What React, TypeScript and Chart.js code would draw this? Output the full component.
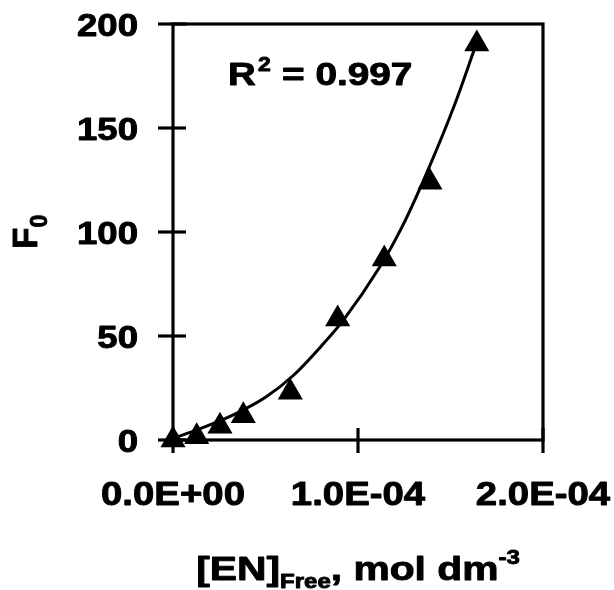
import React, { useEffect, useRef } from "react";
import { Chart, registerables } from "chart.js";

Chart.register(...registerables);

// measured data points
const enFree = [0, 1.28e-5, 2.54e-5, 3.8e-5, 6.34e-5, 8.9e-5, 1.142e-4, 1.389e-4, 1.642e-4];
const f0Values = [0, 1.6, 6.6, 11.7, 22.9, 58.2, 87.0, 123.9, 190.4];

// fitted trendline
const fitX = [0, 1.4e-5, 3.2e-5, 5.0e-5, 6.5e-5, 8.1e-5, 9.2e-5, 1.12e-4, 1.23e-4, 1.35e-4, 1.53e-4, 1.645e-4];
const fitY = [0.8, 5.2, 11.8, 20.5, 31, 46, 57.5, 83.5, 101, 124, 163, 192];

const xTicks = [0, 1e-4, 2e-4];
const xTickLabels = ["0.0E+00", "1.0E-04", "2.0E-04"];
const yTicks = [0, 50, 100, 150, 200];
const yTickLabels = ["0", "50", "100", "150", "200"];

const r2Label = "R";
const r2Sup = "2";
const r2Value = "= 0.997";

const FONT = '"Liberation Sans", Arial, Helvetica, sans-serif';
const HEAVY = 0.9;

function drawText(
  ctx: CanvasRenderingContext2D,
  text: string,
  x: number,
  y: number,
  size: number,
  stretch: number,
  align: "left" | "right" | "center" = "left"
): number {
  ctx.save();
  ctx.font = `bold ${size}px ${FONT}`;
  ctx.textBaseline = "alphabetic";
  ctx.textAlign = "left";
  const w = ctx.measureText(text).width * stretch;
  const x0 = align === "left" ? x : align === "right" ? x - w : x - w / 2;
  ctx.translate(x0, y);
  ctx.scale(stretch, 1);
  ctx.fillStyle = "#000";
  ctx.strokeStyle = "#000";
  ctx.lineWidth = HEAVY;
  ctx.lineJoin = "round";
  ctx.fillText(text, 0, 0);
  ctx.strokeText(text, 0, 0);
  ctx.restore();
  return w;
}

function textWidth(ctx: CanvasRenderingContext2D, text: string, size: number, stretch: number) {
  ctx.save();
  ctx.font = `bold ${size}px ${FONT}`;
  const w = ctx.measureText(text).width * stretch;
  ctx.restore();
  return w;
}

const decorPlugin = {
  id: "decor",
  afterDatasetsDraw(chart: any) {
    const ctx: CanvasRenderingContext2D = chart.ctx;
    const { left, right, top, bottom } = chart.chartArea;
    const xs = chart.scales.x;
    const ys = chart.scales.y;
    ctx.save();
    ctx.strokeStyle = "#000";
    ctx.lineWidth = 3.2;
    ctx.lineCap = "butt";
    // frame
    ctx.strokeRect(left, top, right - left, bottom - top);
    // y ticks
    yTicks.forEach((v) => {
      const py = ys.getPixelForValue(v);
      ctx.beginPath();
      ctx.moveTo(left - 15, py);
      ctx.lineTo(left + 13, py);
      ctx.stroke();
    });
    // x ticks
    xTicks.forEach((v) => {
      const px = xs.getPixelForValue(v);
      ctx.beginPath();
      ctx.moveTo(px, bottom - 12);
      ctx.lineTo(px, bottom + 13);
      ctx.stroke();
    });
    ctx.restore();

    // tick labels
    yTicks.forEach((v, i) => {
      const py = ys.getPixelForValue(v);
      drawText(ctx, yTickLabels[i], left - 35, py + 12, 31, 1.18, "right");
    });
    xTicks.forEach((v, i) => {
      const px = xs.getPixelForValue(v);
      drawText(ctx, xTickLabels[i], px, bottom + 65, 32.5, 1.18, "center");
    });

    // R^2 annotation
    drawText(ctx, r2Label, 228, 85, 31, 1.24);
    drawText(ctx, r2Sup, 258, 71, 20, 1.15);
    drawText(ctx, r2Value, 282, 85, 31, 1.25);

    // y axis title: F with subscript 0, rotated
    ctx.save();
    ctx.translate(37, 249);
    ctx.rotate(-Math.PI / 2);
    ctx.fillStyle = "#000";
    ctx.strokeStyle = "#000";
    ctx.lineWidth = HEAVY;
    ctx.font = `bold 35px ${FONT}`;
    ctx.textAlign = "left";
    ctx.textBaseline = "alphabetic";
    ctx.fillText("F", 0, 0);
    ctx.strokeText("F", 0, 0);
    const fw = ctx.measureText("F").width;
    ctx.font = `bold 23px ${FONT}`;
    ctx.fillText("0", fw, 10);
    ctx.strokeText("0", fw, 10);
    ctx.restore();

    // x axis title: [EN]_Free, mol dm^-3
    const mainS = 34, subS = 20, st = 1.2;
    const parts = [
      { t: "[EN]", s: mainS, dy: 0 },
      { t: "Free", s: subS, dy: 8 },
      { t: ", mol dm", s: mainS, dy: 0 },
      { t: "-3", s: subS, dy: -16.5 },
    ];
    const total = parts.reduce((a, p) => a + textWidth(ctx, p.t, p.s, st), 0);
    let cx = (left + right) / 2 - total / 2;
    const base = 580;
    parts.forEach((p) => {
      cx += drawText(ctx, p.t, cx, base + p.dy, p.s, st);
    });
  },
};

export default function App() {
  const ref = useRef<HTMLCanvasElement | null>(null);
  useEffect(() => {
    if (!ref.current) return;
    const chart = new Chart(ref.current, {
      type: "scatter",
      data: {
        datasets: [
          {
            label: "fit",
            data: fitX.map((x, i) => ({ x, y: fitY[i] })),
            showLine: true,
            borderColor: "#000",
            borderWidth: 3,
            pointRadius: 0,
            cubicInterpolationMode: "monotone",
            clip: false,
            order: 2,
          } as any,
          {
            label: "F0",
            data: enFree.map((x, i) => ({ x, y: f0Values[i] })),
            pointStyle: "triangle",
            pointRadius: 13,
            pointHoverRadius: 13,
            backgroundColor: "#000",
            borderColor: "#000",
            borderWidth: 1.5,
            showLine: false,
            clip: false,
            order: 1,
          } as any,
        ],
      },
      options: {
        responsive: false,
        animation: false,
        devicePixelRatio: 1,
        layout: { padding: { left: 0, top: 24, right: 71, bottom: 0 } },
        plugins: {
          legend: { display: false },
          tooltip: { enabled: false },
        },
        events: [],
        scales: {
          x: {
            type: "linear",
            min: 0,
            max: 2e-4,
            grid: { display: false },
            border: { display: false },
            ticks: { display: false },
            afterFit: (s: any) => {
              s.height = 150;
            },
          },
          y: {
            type: "linear",
            min: 0,
            max: 200,
            grid: { display: false },
            border: { display: false },
            ticks: { display: false },
            afterFit: (s: any) => {
              s.width = 173;
            },
          },
        },
      } as any,
      plugins: [decorPlugin],
    });
    return () => chart.destroy();
  }, []);
  return (
    <div style={{ position: "absolute", left: 0, top: 0, width: 614, height: 590, background: "#fff" }}>
      <canvas ref={ref} width={614} height={590} style={{ width: 614, height: 590 }} />
    </div>
  );
}
